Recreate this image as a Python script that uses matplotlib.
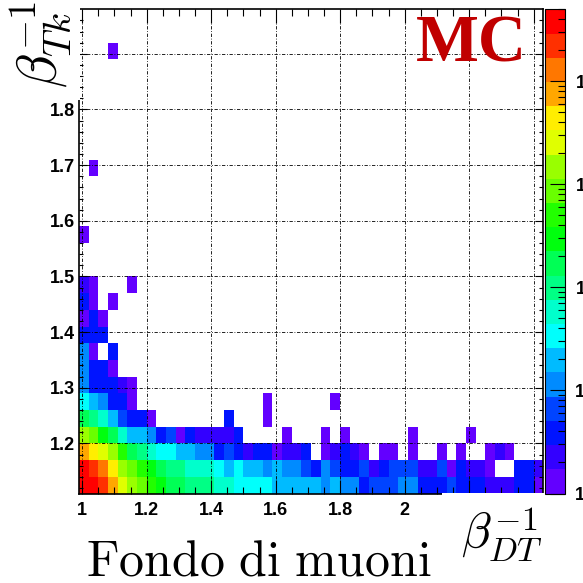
import colorsys
import numpy as np
import matplotlib
matplotlib.use("Agg")
import matplotlib.pyplot as plt
from matplotlib.colors import ListedColormap, LogNorm
from matplotlib.patches import Rectangle
from matplotlib.ticker import FixedLocator, LogLocator, NullFormatter

# binning of the 2D histogram (x: beta_DT^-1, y: beta_Tk^-1)
x_lo, x_bin, nx = 0.99, 0.03, 48
y_lo, y_bin, ny = 1.11, 0.03, 29

# bin contents row by row, starting from the lowest beta_Tk^-1 bin
r00 = [50000, 38000, 22000, 7500, 2500, 1500, 870, 500, 290, 170,
       170, 100, 100, 100, 58, 58, 34, 34, 34, 34,
       20, 20, 20, 20, 20, 12, 20, 12, 12, 4,
       7, 7, 7, 12, 12, 4, 4, 4, 7, 4,
       4, 4, 2, 2, 2, 4, 4, 1]
r01 = [36000, 22000, 13000, 4400, 1500, 870, 500, 290, 170, 100,
       100, 58, 58, 58, 34, 20, 34, 20, 20, 12,
       20, 12, 12, 7, 4, 12, 7, 4, 4, 7,
       2, 4, 7, 7, 7, 2, 2, 7, 1, 4,
       2, 2, 1, 0, 0, 4, 4, 2]
r02 = [7500, 4400, 2500, 1500, 500, 170, 100, 58, 34, 34,
       20, 20, 12, 12, 4, 7, 4, 2, 4, 4,
       1, 2, 2, 4, 0, 1, 2, 4, 2, 1,
       0, 1, 1, 0, 1, 0, 0, 1, 0, 1,
       0, 0, 1, 2, 1, 0, 0, 0]
r03 = [1500, 870, 290, 170, 58, 20, 20, 12, 4, 7,
       1, 4, 2, 2, 2, 2, 4, 0, 0, 0,
       0, 1, 0, 0, 0, 1, 0, 1, 0, 0,
       0, 0, 0, 0, 1, 0, 0, 0, 0, 0,
       1]
r04 = [170, 100, 58, 20, 7, 4, 4, 1, 0, 0, 0, 0, 0, 0, 0, 4, 0, 0, 0, 1]
r05 = [34, 20, 12, 4, 4, 1, 0, 0, 0, 0, 0, 0, 0, 0, 0, 0, 0, 0, 0, 1,
       0, 0, 0, 0, 0, 0, 1]
r06 = [12, 4, 4, 4, 2, 1]
r07 = [12, 4, 4, 1]
r08 = [12, 1, 0, 4]
r09 = [4, 4, 4]
r10 = [1, 4, 1]
r11 = [4, 1, 0, 1]
r12 = [2, 1, 0, 0, 0, 1]
# lonely entries far from the band: (column, row, count)
stray_col = [0, 1, 3]
stray_row = [15, 19, 26]
stray_cnt = [1, 1, 1]

counts = np.zeros((ny, nx))
for j, r in enumerate([r00, r01, r02, r03, r04, r05, r06, r07, r08, r09, r10, r11, r12]):
    counts[j, :len(r)] = r
for c, r, n in zip(stray_col, stray_row, stray_cnt):
    counts[r, c] = n
counts = np.ma.masked_equal(counts, 0)

x_edges = x_lo + x_bin * np.arange(nx + 1)
y_edges = y_lo + y_bin * np.arange(ny + 1)

# ROOT "pretty" palette, 20 contour levels
cols = []
for k in range(20):
    idx = int((k + 0.99) * 50 / 20)
    hue = max(280 - (idx + 1) * 5.6, 0)
    cols.append(colorsys.hls_to_rgb(hue / 360.0, 0.5, 1.0))
cmap = ListedColormap(cols)
norm = LogNorm(vmin=1, vmax=counts.max())

# labels hidden behind the axis-title boxes in the original
hidden_x = {2.2, 2.4}
hidden_y = {1.9}

W = H = 583.0
fig = plt.figure(figsize=(5.83, 5.83), dpi=100)
ax = fig.add_axes([78.9 / W, 1 - 493.5 / H, (543.3 - 78.9) / W, (493.5 - 9.3) / H])
mesh = ax.pcolormesh(x_edges, y_edges, counts, cmap=cmap, norm=norm)

ax.set_xlim(x_edges[0], x_edges[-1])
ax.set_ylim(y_edges[0], y_edges[-1])
ax.xaxis.set_major_locator(FixedLocator(np.round(np.arange(1.0, 2.41, 0.2), 2)))
ax.xaxis.set_minor_locator(FixedLocator(np.round(np.arange(1.0, 2.43, 0.05), 2)))
ax.yaxis.set_major_locator(FixedLocator(np.round(np.arange(1.2, 1.91, 0.1), 2)))
ax.yaxis.set_minor_locator(FixedLocator(np.round(np.arange(1.12, 1.98, 0.02), 2)))
ax.xaxis.set_major_formatter(lambda v, p: "" if round(v, 2) in hidden_x else f"{v:g}")
ax.yaxis.set_major_formatter(lambda v, p: "" if round(v, 2) in hidden_y else f"{v:g}")
ax.tick_params(which="both", direction="in", top=True, right=True)
ax.tick_params(axis="x", which="major", length=10, width=0.8, pad=6)
ax.tick_params(axis="x", which="minor", length=5, width=0.8)
ax.tick_params(axis="y", which="major", length=6, width=0.8, pad=3)
ax.tick_params(axis="y", which="minor", length=3, width=0.8)
for lab in ax.get_xticklabels() + ax.get_yticklabels():
    lab.set_fontfamily("Liberation Sans")
    lab.set_fontweight("bold")
    lab.set_fontsize(13)
ax.grid(True, which="major", color="black", linewidth=0.6, linestyle=(0, (4, 2, 1, 2)))
for s in ax.spines.values():
    s.set_linewidth(1.2)

cax = fig.add_axes([545.3 / W, 1 - 493.5 / H, 20 / W, (493.5 - 9.3) / H])
cb = fig.colorbar(mesh, cax=cax)
cb.outline.set_linewidth(0.8)
cb.set_ticks([1, 10, 100, 1000, 10000])
cb.set_ticklabels(["1", "10", "10$^{2}$", "10$^{3}$", "10$^{4}$"])
cax.yaxis.set_minor_locator(LogLocator(base=10, subs=range(2, 10)))
cax.yaxis.set_minor_formatter(NullFormatter())
cax.tick_params(which="both", direction="in", right=True, left=False, width=0.8)
cax.tick_params(which="major", length=11, pad=7)
cax.tick_params(which="minor", length=5)
for lab in cax.get_yticklabels():
    lab.set_fontfamily("Liberation Sans")
    lab.set_fontweight("bold")
    lab.set_fontsize(13)

# white boxes behind the axis titles (they hide part of the frame, as in ROOT)
fig.add_artist(Rectangle((442 / W, 0), 103 / W, 1 - 492.6 / H, transform=fig.transFigure,
                         facecolor="white", edgecolor="none", zorder=5))
fig.add_artist(Rectangle((0, 1 - 100 / H), 80 / W, 100 / H, transform=fig.transFigure,
                         facecolor="white", edgecolor="none", zorder=5))

plt.rcParams["mathtext.fontset"] = "cm"
fig.text(461 / W, 1 - 549 / H, r"$\beta_{DT}^{-1}$", fontsize=35, ha="left", va="baseline", zorder=6)
fig.text(74 / W, 1 - 1 / H, r"$\beta_{Tk}^{-1}$", fontsize=40, rotation=90, ha="right", va="top", zorder=6)
fig.text(86 / W, 1 - 576 / H, r"$\mathrm{Fondo\ di\ muoni}$", fontsize=36, ha="left", va="baseline", zorder=6)
fig.text(471.5 / W, 1 - 44.5 / H, "MC", fontsize=48, fontfamily="Liberation Serif", fontweight="bold",
         color="#c00000", ha="center", va="center", zorder=6)

fig.savefig("out.png", dpi=100)
